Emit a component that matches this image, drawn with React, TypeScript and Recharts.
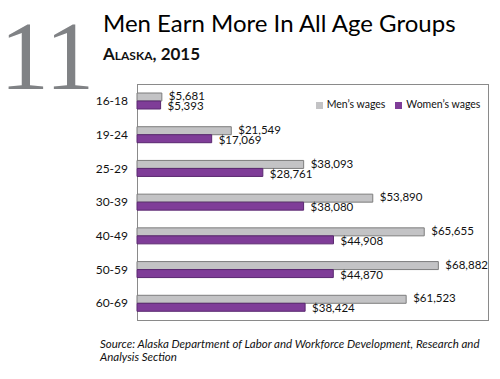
import React from "react";
import { BarChart, Bar, XAxis, YAxis, Legend, LabelList } from "recharts";

const AGE_GROUPS = ["16-18", "19-24", "25-29", "30-39", "40-49", "50-59", "60-69"];
const MEN_WAGES = [5681, 21549, 38093, 53890, 65655, 68882, 61523];
const WOMEN_WAGES = [5393, 17069, 28761, 38080, 44908, 44870, 38424];

const data = AGE_GROUPS.map((age, i) => ({
  age,
  men: MEN_WAGES[i],
  women: WOMEN_WAGES[i],
}));

const FONT = "Lato, 'Open Sans', sans-serif";
const money = (v: number) => `$${v.toLocaleString("en-US")}`;

export default function App() {
  return (
    <div
      style={{
        position: "relative",
        width: 500,
        height: 379,
        margin: -8,
        background: "#fff",
        fontFamily: FONT,
        overflow: "hidden",
      }}
    >
      {/* big figure number */}
      <div
        style={{
          position: "absolute",
          left: 0,
          top: 0,
          fontFamily: "'Liberation Serif', serif",
          fontSize: 98,
          color: "#808285",
          lineHeight: "normal",
        }}
      >
        11
      </div>
      <div
        style={{ position: "absolute", left: 103, top: 8, fontSize: 24, color: "#000", lineHeight: "30px" }}
      >
        Men Earn More In All Age Groups
      </div>
      <div
        style={{
          position: "absolute",
          left: 103,
          top: 43,
          fontSize: 17,
          fontWeight: 700,
          fontVariant: "small-caps",
          color: "#111",
          lineHeight: "22px",
        }}
      >
        Alaska, 2015
      </div>

      {/* plot frame */}
      <div
        style={{
          position: "absolute",
          left: 137,
          top: 84,
          width: 350,
          height: 235,
          border: "1px solid #8a8a8a",
        }}
      />

      <div style={{ position: "absolute", left: 0, top: 0 }}>
        <BarChart
          width={500}
          height={379}
          data={data}
          layout="vertical"
          margin={{ top: 84, right: 13, bottom: 59, left: 97 }}
          barSize={8}
          barGap={0}
        >
          <XAxis type="number" domain={[0, 80000]} hide />
          <YAxis
            type="category"
            dataKey="age"
            width={40}
            axisLine={false}
            tickLine={false}
            tickSize={0}
            tickMargin={9}
            tick={{ fontSize: 12, fill: "#111", fontFamily: FONT }}
          />
          <Legend
            layout="horizontal"
            verticalAlign="middle"
            align="center"
            iconType="square"
            iconSize={7}
            wrapperStyle={{ top: 98, left: 308, width: 190, fontSize: 10.5, fontFamily: FONT, whiteSpace: "nowrap" }}
            formatter={(value: string) => <span style={{ color: "#111" }}>{value}</span>}
          />
          <Bar
            dataKey="men"
            name="Men’s wages"
            fill="#c3c3c5"
            stroke="#7d7d7d"
            strokeWidth={1}
            isAnimationActive={false}
          >
            <LabelList
              dataKey="men"
              position="right"
              offset={7}
              formatter={money}
              style={{ fontSize: 11.5, fill: "#111", fontFamily: FONT, transform: "translateY(-1px)" }}
            />
          </Bar>
          <Bar
            dataKey="women"
            name="Women’s wages"
            fill="#7f3d98"
            stroke="#5a2870"
            strokeWidth={1}
            isAnimationActive={false}
          >
            <LabelList
              dataKey="women"
              position="right"
              offset={7}
              formatter={money}
              style={{ fontSize: 11.5, fill: "#111", fontFamily: FONT, transform: "translateY(1px)" }}
            />
          </Bar>
        </BarChart>
      </div>

      <div
        style={{
          position: "absolute",
          left: 100,
          top: 337,
          fontSize: 11.5,
          fontStyle: "italic",
          color: "#111",
          lineHeight: "13px",
          whiteSpace: "nowrap",
        }}
      >
        Source: Alaska Department of Labor and Workforce Development, Research and
        <br />
        Analysis Section
      </div>
    </div>
  );
}
